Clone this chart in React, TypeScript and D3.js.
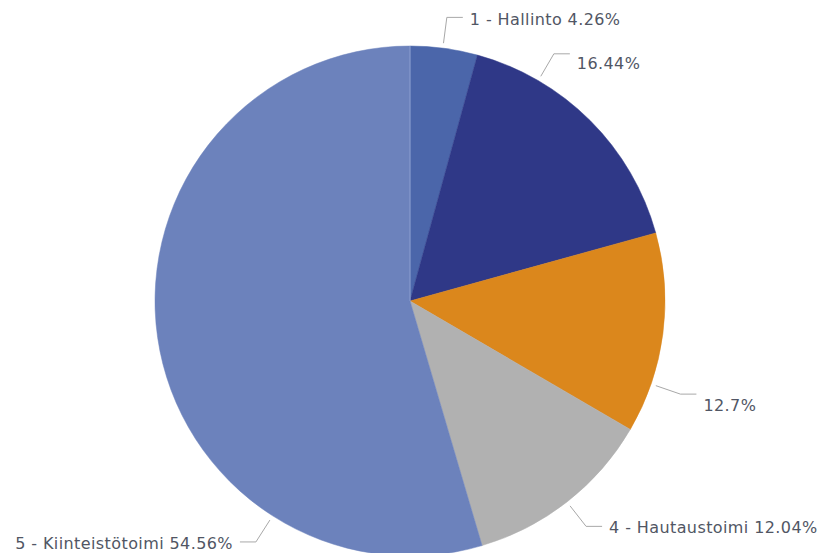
import React from "react";
import * as d3 from "d3";

const categories = ["1 - Hallinto", "2", "3", "4 - Hautaustoimi", "5 - Kiinteistötoimi"];
const values = [4.26, 16.44, 12.7, 12.04, 54.56];
const labelTexts = ["1 - Hallinto 4.26%", "16.44%", "12.7%", "4 - Hautaustoimi 12.04%", "5 - Kiinteistötoimi 54.56%"];
const colors = ["#4b66aa", "#2f3887", "#db871c", "#b1b1b1", "#6c82bc"];

// layout constants for label leader lines (degrees clockwise from top)
const labelAngles = [7.4, 30.2, 109, 142, 212.6];
const labelDy = [2, 10, 11, 1, 1];

const W = 823;
const H = 553;
const cx = 410;
const cy = 301;
const R = 255;

export default function App() {
  const pie = d3
    .pie<number>()
    .sort(null)
    .value((d) => d)
    .startAngle(0)
    .endAngle(2 * Math.PI);
  const arcs = pie(values);
  const arc = d3.arc<d3.PieArcDatum<number>>().innerRadius(0).outerRadius(R);

  const pt = (deg: number, r: number) => {
    const a = (deg * Math.PI) / 180;
    return [cx + r * Math.sin(a), cy - r * Math.cos(a)];
  };

  return (
    <div style={{ position: "fixed", left: 0, top: 0 }}>
      <svg width={W} height={H} style={{ display: "block", background: "#fff" }}>
        <g transform={`translate(${cx},${cy})`}>
          {arcs.map((a, i) => (
            <path key={i} d={arc(a) || ""} fill={colors[i]} stroke={colors[i]} strokeWidth={0.5} />
          ))}
          <line x1={0} y1={0} x2={0} y2={-R} stroke="#8c9fd0" strokeWidth={1} />
        </g>
        {arcs.map((a, i) => {
          const deg = labelAngles[i];
          const [x0, y0] = pt(deg, 260);
          const [x1, y1] = pt(deg, 286);
          const right = Math.sin((deg * Math.PI) / 180) >= 0;
          const x2 = x1 + (right ? 16 : -16);
          const tx = x2 + (right ? 7 : -7);
          return (
            <g key={"l" + i}>
              <polyline
                points={`${x0},${y0} ${x1},${y1} ${x2},${y1}`}
                fill="none"
                stroke="#a8a8a8"
                strokeWidth={1}
              />
              <text
                x={tx}
                y={y1 + labelDy[i]}
                dy="0.35em"
                textAnchor={right ? "start" : "end"}
                fontFamily="'DejaVu Sans', Verdana, sans-serif"
                fontSize={16}
                letterSpacing={0.4}
                fill="#515664"
              >
                {labelTexts[i]}
              </text>
            </g>
          );
        })}
      </svg>
    </div>
  );
}
